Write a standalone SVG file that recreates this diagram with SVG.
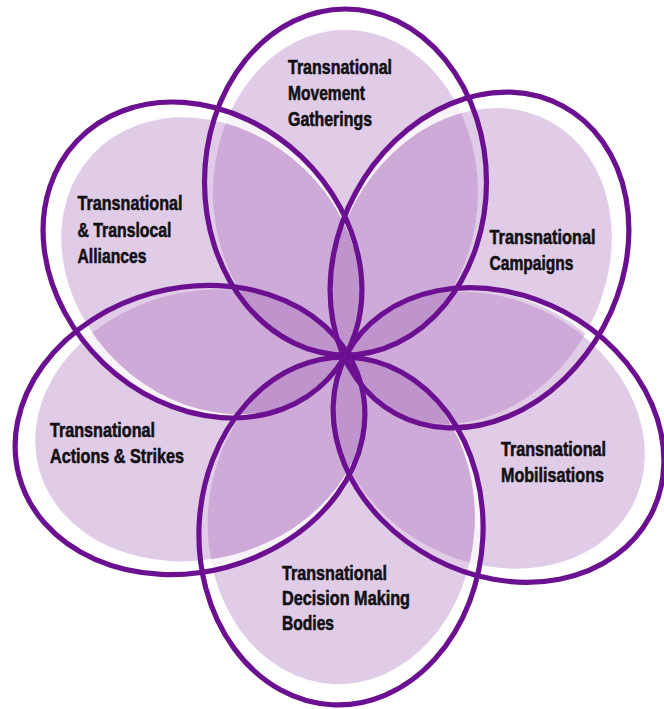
<svg xmlns="http://www.w3.org/2000/svg" width="664" height="709" viewBox="0 0 664 709">
  <style>
    .ring { fill: #ffffff; fill-opacity: 0.75; fill-rule: evenodd; }
    .fill { fill: #a564b7; fill-opacity: 0.33; }
    .outline { fill: none; stroke: #6b1090; stroke-width: 5.2; }
    .lbl { font-family: "Liberation Sans", Arial, sans-serif; font-weight: bold; font-size: 19.5px; fill: #121014; stroke: #121014; stroke-width: 0.55; }
  </style>
  <rect x="0" y="0" width="664" height="709" fill="#ffffff"/>

  <!-- fills (ring + tinted inner ellipse) -->
  <g id="fills">
    <g id="fill-gatherings" transform="translate(345.5 182)">
      <path class="ring" d="M141,0 A141,173 0 1 1 -141,0 A141,173 0 1 1 141,0 Z M132.5,10.4 A132.5,162.6 0 1 1 -132.5,10.4 A132.5,162.6 0 1 1 132.5,10.4 Z"/>
      <ellipse class="fill" cx="0" cy="10.4" rx="132.5" ry="162.6"/>
    </g>
    <g id="fill-campaigns" transform="translate(479.5 260) rotate(-61.6)">
      <path class="ring" d="M175,0 A175,141 0 1 1 -175,0 A175,141 0 1 1 175,0 Z M155.5,-4.3 A164.5,132.5 0 1 1 -173.5,-4.3 A164.5,132.5 0 1 1 155.5,-4.3 Z"/>
      <ellipse class="fill" cx="-9" cy="-4.3" rx="164.5" ry="132.5"/>
    </g>
    <g id="fill-mobilisations" transform="translate(498.5 435) rotate(28)">
      <path class="ring" d="M172,0 A172,139.5 0 1 1 -172,0 A172,139.5 0 1 1 172,0 Z M151.3,0.15 A161.7,131.1 0 1 1 -172,0.15 A161.7,131.1 0 1 1 151.3,0.15 Z"/>
      <ellipse class="fill" cx="-10.3" cy="0.15" rx="161.7" ry="131.1"/>
    </g>
    <g id="fill-decision" transform="translate(341 531) rotate(3)">
      <path class="ring" d="M142,0 A142,174 0 1 1 -142,0 A142,174 0 1 1 142,0 Z M133.2,-10.4 A133.5,163.6 0 1 1 -133.8,-10.4 A133.5,163.6 0 1 1 133.2,-10.4 Z"/>
      <ellipse class="fill" cx="-0.28" cy="-10.4" rx="133.5" ry="163.6"/>
    </g>
    <g id="fill-actions" transform="translate(190 430) rotate(-15)">
      <path class="ring" d="M177,0 A177,142 0 1 1 -177,0 A177,142 0 1 1 177,0 Z M176.8,-1.9 A166.4,133.5 0 1 1 -156,-1.9 A166.4,133.5 0 1 1 176.8,-1.9 Z"/>
      <ellipse class="fill" cx="10.4" cy="-1.9" rx="166.4" ry="133.5"/>
    </g>
    <g id="fill-alliances" transform="translate(202.5 260) rotate(43.6)">
      <path class="ring" d="M173,0 A173,143 0 1 1 -173,0 A173,143 0 1 1 173,0 Z M172.8,-1.7 A162.6,134.4 0 1 1 -152.4,-1.7 A162.6,134.4 0 1 1 172.8,-1.7 Z"/>
      <ellipse class="fill" cx="10.2" cy="-1.7" rx="162.6" ry="134.4"/>
    </g>
  </g>

  <!-- nodes: outline + label -->
  <g id="node-gatherings">
    <ellipse class="outline" cx="0" cy="0" rx="141" ry="173" transform="translate(345.5 182)"/>
    <text class="lbl" x="288" y="73.5" textLength="104" lengthAdjust="spacingAndGlyphs">Transnational</text>
    <text class="lbl" x="288" y="99.5" textLength="77" lengthAdjust="spacingAndGlyphs">Movement</text>
    <text class="lbl" x="288" y="125.5" textLength="84" lengthAdjust="spacingAndGlyphs">Gatherings</text>
  </g>
  <g id="node-campaigns">
    <ellipse class="outline" cx="0" cy="0" rx="175" ry="141" transform="translate(479.5 260) rotate(-61.6)"/>
    <text class="lbl" x="489.5" y="244" textLength="106" lengthAdjust="spacingAndGlyphs">Transnational</text>
    <text class="lbl" x="489.5" y="270" textLength="84" lengthAdjust="spacingAndGlyphs">Campaigns</text>
  </g>
  <g id="node-mobilisations">
    <ellipse class="outline" cx="0" cy="0" rx="172" ry="139.5" transform="translate(498.5 435) rotate(28)"/>
    <text class="lbl" x="501" y="456" textLength="105" lengthAdjust="spacingAndGlyphs">Transnational</text>
    <text class="lbl" x="501" y="482" textLength="103" lengthAdjust="spacingAndGlyphs">Mobilisations</text>
  </g>
  <g id="node-decision">
    <ellipse class="outline" cx="0" cy="0" rx="142" ry="174" transform="translate(341 531) rotate(3)"/>
    <text class="lbl" x="282" y="579.5" textLength="105" lengthAdjust="spacingAndGlyphs">Transnational</text>
    <text class="lbl" x="282" y="604.5" textLength="128" lengthAdjust="spacingAndGlyphs">Decision Making</text>
    <text class="lbl" x="282" y="630" textLength="52" lengthAdjust="spacingAndGlyphs">Bodies</text>
  </g>
  <g id="node-actions">
    <ellipse class="outline" cx="0" cy="0" rx="177" ry="142" transform="translate(190 430) rotate(-15)"/>
    <text class="lbl" x="50" y="437" textLength="105" lengthAdjust="spacingAndGlyphs">Transnational</text>
    <text class="lbl" x="50" y="463" textLength="134" lengthAdjust="spacingAndGlyphs">Actions &amp; Strikes</text>
  </g>
  <g id="node-alliances">
    <ellipse class="outline" cx="0" cy="0" rx="173" ry="143" transform="translate(202.5 260) rotate(43.6)"/>
    <text class="lbl" x="77.5" y="210" textLength="105" lengthAdjust="spacingAndGlyphs">Transnational</text>
    <text class="lbl" x="77.5" y="236.5" textLength="94" lengthAdjust="spacingAndGlyphs">&amp; Translocal</text>
    <text class="lbl" x="77.5" y="263" textLength="69" lengthAdjust="spacingAndGlyphs">Alliances</text>
  </g>
  <g id="connectors"/>
</svg>
